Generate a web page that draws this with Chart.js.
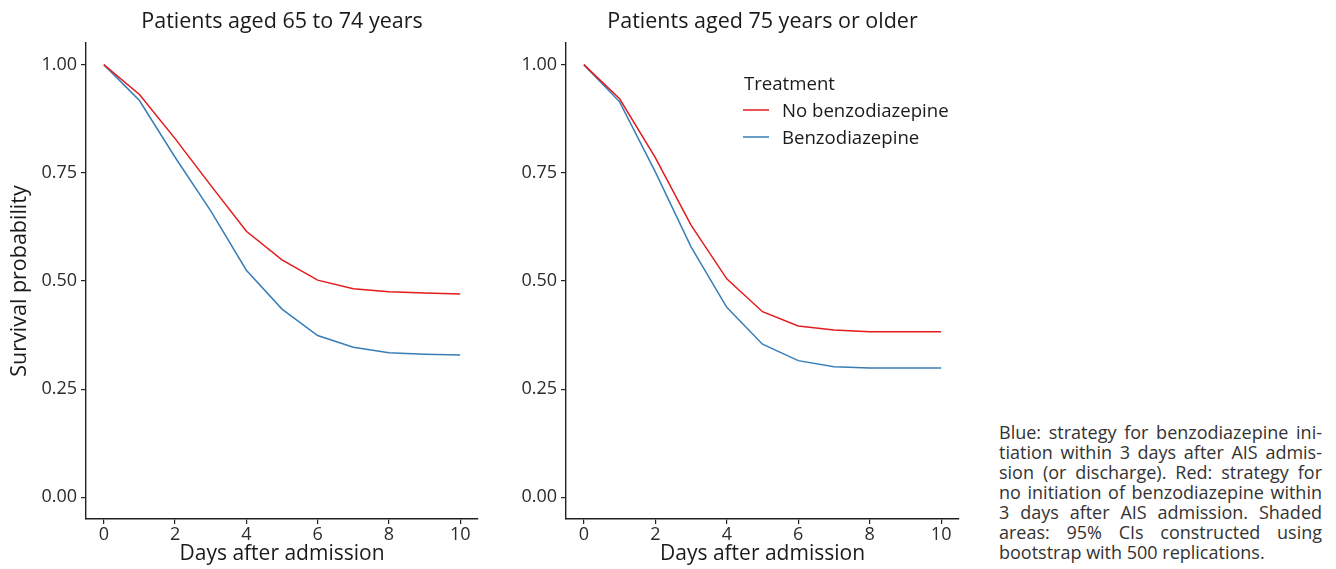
<!DOCTYPE html>
<html>
<head>
<meta charset="utf-8">
<script src="https://cdn.jsdelivr.net/npm/chart.js@4.4.1/dist/chart.umd.min.js"></script>
<style>
  html, body { margin: 0; padding: 0; background: #fff; }
  body { width: 1336px; height: 569px; position: relative; overflow: hidden; font-family: "Open Sans", sans-serif; }
  canvas { position: absolute; top: 0; }
  #left { left: 0; }
  #right { left: 490px; }
  .caption {
    position: absolute; left: 999px; top: 422px; width: 323px;
    font-size: 18px; line-height: 20px; color: #333;
  }
  .caption span { display: block; text-align: justify; text-align-last: justify; white-space: nowrap; }
  .caption span.last { text-align-last: left; }
</style>
</head>
<body>
<canvas id="left" width="490" height="569"></canvas>
<canvas id="right" width="480" height="569"></canvas>
<div class="caption">
  <span>Blue: strategy for benzodiazepine ini-</span>
  <span>tiation within 3 days after AIS admis-</span>
  <span>sion (or discharge). Red: strategy for</span>
  <span>no initiation of benzodiazepine within</span>
  <span>3 days after AIS admission. Shaded</span>
  <span>areas: 95% CIs constructed using</span>
  <span class="last">bootstrap with 500 replications.</span>
</div>
<script>
// data
const days = [0, 1, 2, 3, 4, 5, 6, 7, 8, 9, 10]
const youngNoBenzo = [1.0, 0.931, 0.829, 0.721, 0.615, 0.549, 0.502, 0.482, 0.475, 0.472, 0.470]
const youngBenzo = [1.0, 0.917, 0.786, 0.662, 0.525, 0.435, 0.374, 0.347, 0.334, 0.331, 0.329]
const oldNoBenzo = [1.0, 0.921, 0.785, 0.629, 0.505, 0.429, 0.396, 0.387, 0.383, 0.383, 0.383]
const oldBenzo = [1.0, 0.914, 0.752, 0.579, 0.439, 0.354, 0.316, 0.302, 0.299, 0.299, 0.299]

const xTicks = [0, 2, 4, 6, 8, 10]
const yTicks = [0, 0.25, 0.5, 0.75, 1]
const yTickLabels = ["0.00", "0.25", "0.50", "0.75", "1.00"]

const seriesNames = ["No benzodiazepine", "Benzodiazepine"]
const legendTitle = "Treatment"

const RED = "#E41A1C"
const BLUE = "#377EB8"
const AXIS = "#222"

Chart.defaults.font.family = "'Open Sans', sans-serif"
Chart.defaults.color = "#222"

// panel title centred on the plot area, legend drawn inside the plot
const panelDecor = {
  id: "panelDecor",
  afterDraw(chart, args, opts) {
    const ctx = chart.ctx
    const area = chart.chartArea
    ctx.save()
    ctx.fillStyle = "#1a1a1a"
    ctx.font = "21.5px 'Open Sans', sans-serif"
    ctx.textAlign = "center"
    ctx.textBaseline = "alphabetic"
    ctx.fillText(opts.title, (area.left + area.right) / 2, 28)

    if (opts.legend) {
      const x = opts.legendX
      ctx.textAlign = "left"
      ctx.font = "18.6px 'Open Sans', sans-serif"
      ctx.fillText(legendTitle, x, 90)
      chart.data.datasets.forEach((ds, i) => {
        const y = 110 + i * 27
        ctx.strokeStyle = ds.borderColor
        ctx.lineWidth = 1.5
        ctx.beginPath()
        ctx.moveTo(x - 1, y)
        ctx.lineTo(x + 25, y)
        ctx.stroke()
        ctx.fillText(ds.label, x + 38, y + 6.7)
      })
    }
    ctx.restore()
  },
}

function makeChart(id, title, noBenzo, benzo, opts) {
  return new Chart(document.getElementById(id), {
    type: "line",
    data: {
      labels: days,
      datasets: [
        { label: seriesNames[0], data: noBenzo, borderColor: RED, backgroundColor: RED },
        { label: seriesNames[1], data: benzo, borderColor: BLUE, backgroundColor: BLUE },
      ],
    },
    options: {
      responsive: false,
      animation: false,
      devicePixelRatio: 1,
      elements: {
        line: { borderWidth: 1.5, tension: 0 },
        point: { radius: 0 },
      },
      layout: { padding: { top: 43, right: opts.rightPad, bottom: 0, left: 0 } },
      plugins: {
        legend: { display: false },
        tooltip: { enabled: false },
        panelDecor: { title: title, legend: opts.legend, legendX: opts.legendX },
      },
      scales: {
        x: {
          type: "linear",
          min: -0.5,
          max: 10.5,
          afterBuildTicks: (axis) => {
            axis.ticks = xTicks.map((v) => ({ value: v }))
          },
          afterFit: (axis) => {
            axis.height = 50
          },
          ticks: { font: { size: 18 }, color: "#2b2b2b", padding: 0, maxRotation: 0 },
          grid: { drawOnChartArea: false, drawTicks: true, tickLength: 5, color: AXIS, lineWidth: 1.2 },
          border: { display: true, color: AXIS, width: 1.4 },
          title: {
            display: true,
            text: "Days after admission",
            font: { size: 21 },
            color: "#1a1a1a",
            padding: { top: 0, bottom: 2 },
          },
        },
        y: {
          min: -0.05,
          max: 1.05,
          afterBuildTicks: (axis) => {
            axis.ticks = yTicks.map((v) => ({ value: v }))
          },
          afterFit: (axis) => {
            axis.width = opts.yWidth
          },
          ticks: {
            font: { size: 18 },
            color: "#2b2b2b",
            padding: 4,
            callback: (v) => yTickLabels[yTicks.indexOf(v)],
          },
          grid: { drawOnChartArea: false, drawTicks: true, tickLength: 5, color: AXIS, lineWidth: 1.2 },
          border: { display: true, color: AXIS, width: 1.4 },
          title: {
            display: opts.yTitle,
            text: "Survival probability",
            font: { size: 21.5 },
            color: "#1a1a1a",
            padding: { top: 7, bottom: 0 },
          },
        },
      },
    },
    plugins: [panelDecor],
  })
}

makeChart("left", "Patients aged 65 to 74 years", youngNoBenzo, youngBenzo, {
  yWidth: 86, rightPad: 12, yTitle: true, legend: false,
})
makeChart("right", "Patients aged 75 years or older", oldNoBenzo, oldBenzo, {
  yWidth: 76, rightPad: 11, yTitle: false, legend: true, legendX: 254,
})
</script>
</body>
</html>
